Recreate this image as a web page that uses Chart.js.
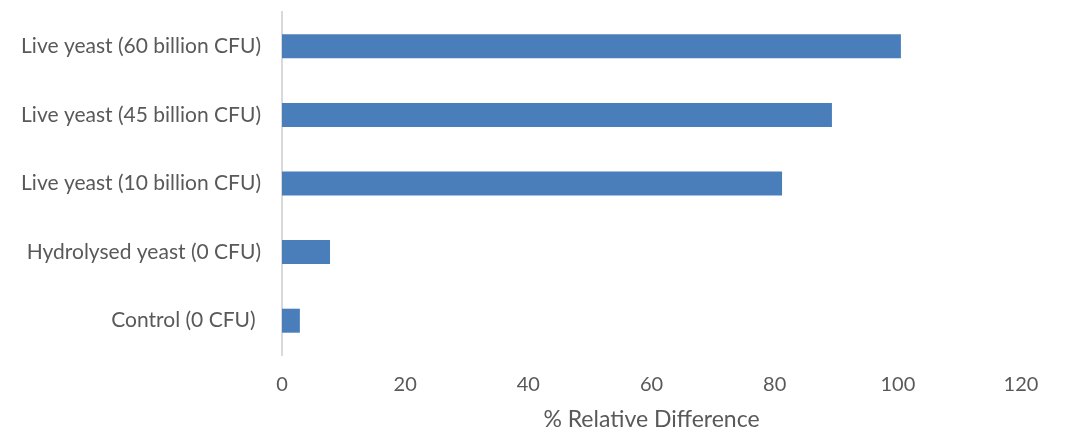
<!DOCTYPE html>
<html>
<head>
<meta charset="utf-8">
<script src="https://cdn.jsdelivr.net/npm/chart.js@4"></script>
<style>
  html, body { margin: 0; padding: 0; background: #ffffff; }
  #wrap { width: 1070px; height: 431px; }
</style>
</head>
<body>
<div id="wrap"><canvas id="mainChart" width="1070" height="431"></canvas></div>
<script>
// categories, top to bottom
const categories = [
    "Live yeast (60 billion CFU)",
    "Live yeast (45 billion CFU)",
    "Live yeast (10 billion CFU)",
    "Hydrolysed yeast (0 CFU)",
    "Control (0 CFU) "
];
// % relative difference
const relDiff = [100.5, 89.3, 81.2, 7.8, 2.9];
const xTicks = [0, 20, 40, 60, 80, 100, 120];

const textColor = "#595959";
const fontFamily = "Lato, 'Open Sans', sans-serif";

let ctx = document.getElementById("mainChart").getContext("2d");
let mainChart = new Chart(ctx, {
    type: "bar",
    data: {
        labels: categories,
        datasets: [{
            label: "% Relative Difference",
            data: relDiff,
            backgroundColor: "#4a7ebb",
            borderWidth: 0,
            categoryPercentage: 1.0,
            barPercentage: 0.35
        }]
    },
    options: {
        indexAxis: "y",
        responsive: false,
        animation: false,
        layout: { padding: { top: 12, right: 49, bottom: 0, left: 0 } },
        plugins: {
            legend: { display: false },
            tooltip: { enabled: false }
        },
        scales: {
            x: {
                min: 0,
                max: 120,
                afterBuildTicks: function (scale) {
                    scale.ticks = xTicks.map(v => ({ value: v }));
                },
                afterFit: function (scale) { scale.height = 76; },
                grid: { display: false, drawTicks: false },
                border: { display: false },
                ticks: {
                    color: textColor,
                    padding: 18,
                    font: { family: fontFamily, size: 20 }
                },
                title: {
                    display: true,
                    text: "% Relative Difference",
                    color: textColor,
                    padding: { top: 0, bottom: 0 },
                    font: { family: fontFamily, size: 23, lineHeight: 1.0 }
                }
            },
            y: {
                afterFit: function (scale) {
                    scale.width = 282;
                    // no extra room for half label heights at top/bottom
                    scale.paddingTop = 0;
                    scale.paddingBottom = 0;
                },
                grid: { display: false, drawTicks: false },
                border: { display: true, color: "#d9d9d9", width: 2 },
                ticks: {
                    color: textColor,
                    padding: 21,
                    font: { family: fontFamily, size: 21 }
                }
            }
        }
    }
});
</script>
</body>
</html>
